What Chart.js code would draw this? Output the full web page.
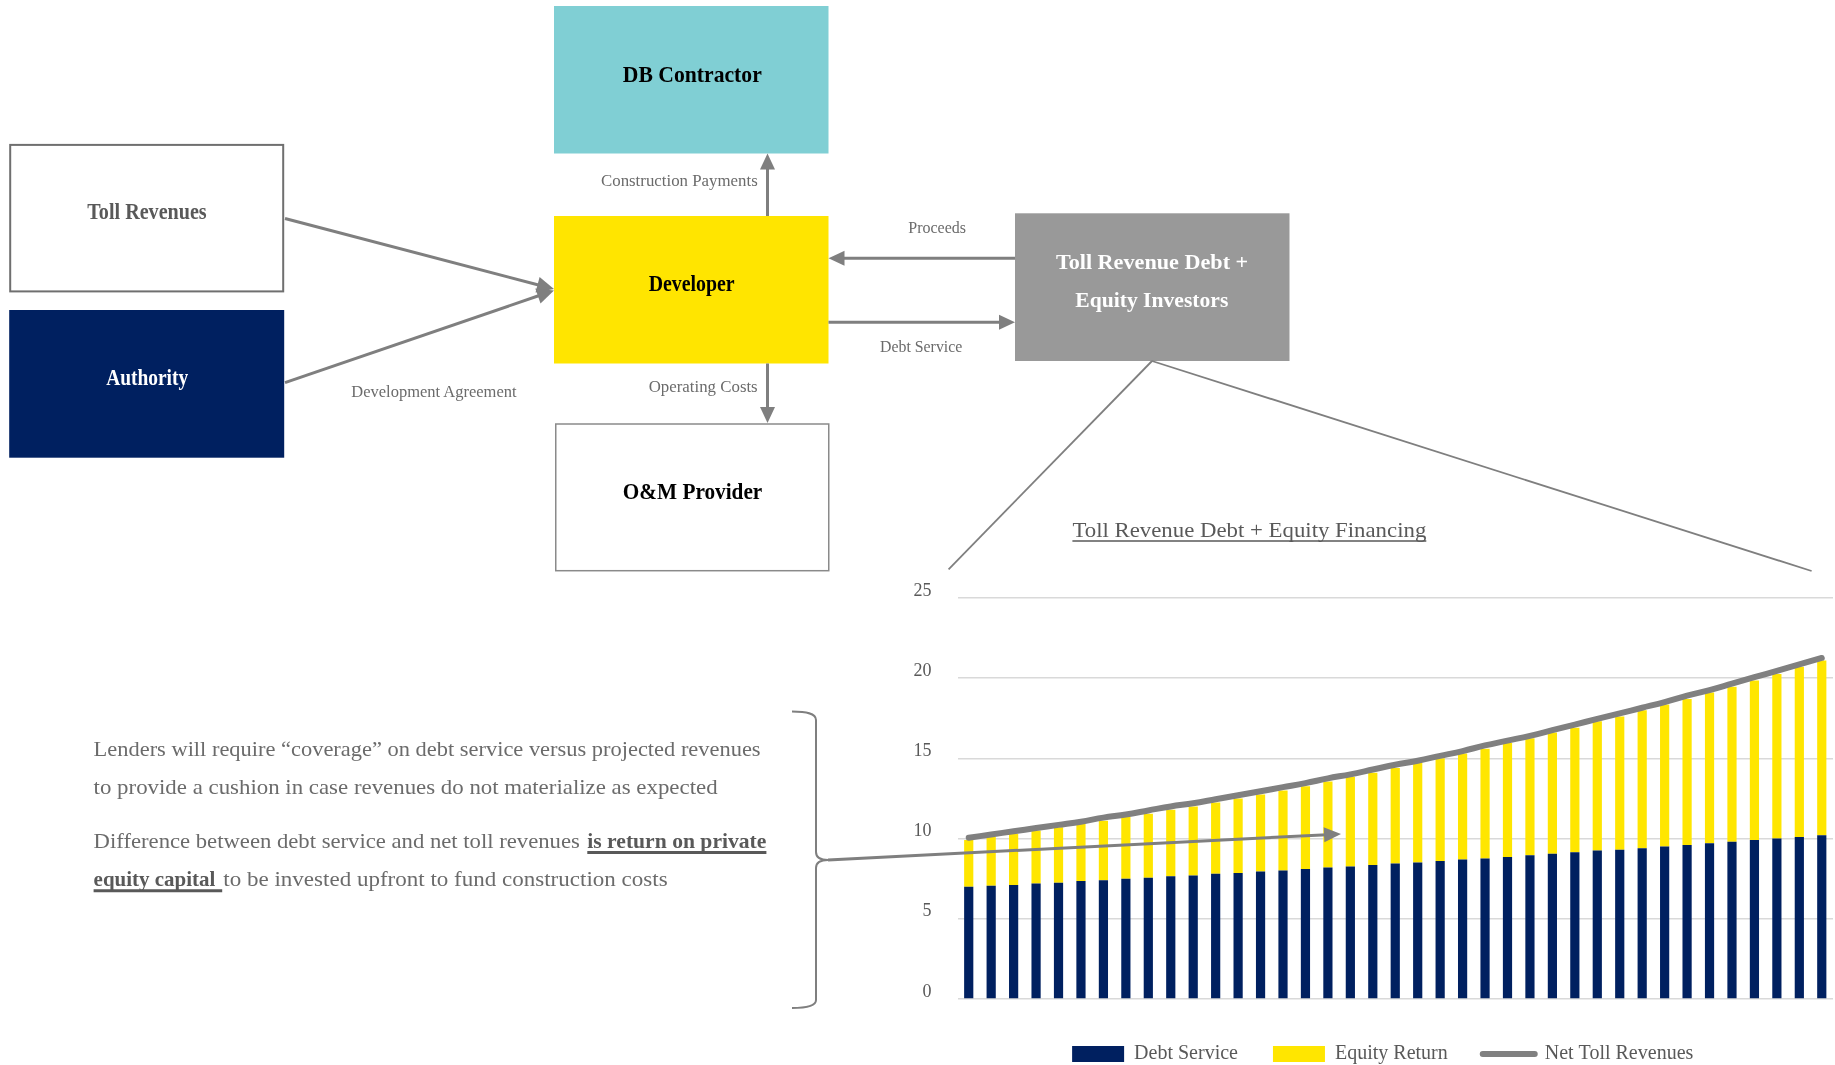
<!DOCTYPE html>
<html><head><meta charset="utf-8">
<script src="https://cdn.jsdelivr.net/npm/chart.js@4.4.1/dist/chart.umd.min.js"></script>
<style>
html,body{margin:0;padding:0;background:#fff;}
body{width:1835px;height:1065px;overflow:hidden;position:relative;font-family:'Liberation Serif',serif;}
#chartWrap{position:absolute;left:905px;top:561.3px;width:950px;height:513px;}
#overlay{position:absolute;left:0;top:0;width:1835px;height:1065px;pointer-events:none;}
</style></head><body>
<div id="chartWrap"><canvas id="c" width="950" height="513"></canvas></div>
<svg id="overlay" xmlns="http://www.w3.org/2000/svg" width="1835" height="1065" viewBox="0 0 1835 1065"></svg>
<script>
// ---- chart data ----
const years = [1,2,3,4,5,6,7,8,9,10,11,12,13,14,15,16,17,18,19,20,21,22,23,24,25,26,27,28,29,30,31,32,33,34,35,36,37,38,39];
const debtService = [7.0,7.05,7.1,7.2,7.25,7.35,7.4,7.5,7.55,7.65,7.7,7.8,7.85,7.95,8.0,8.1,8.2,8.25,8.35,8.45,8.5,8.6,8.7,8.75,8.85,8.95,9.05,9.15,9.25,9.3,9.4,9.5,9.6,9.7,9.8,9.9,10.0,10.1,10.2];
const equityReturn = [2.9,3.05,3.2,3.3,3.45,3.55,3.7,3.85,4.0,4.15,4.3,4.45,4.65,4.8,5.0,5.15,5.35,5.6,5.75,5.95,6.2,6.4,6.6,6.85,7.1,7.3,7.55,7.75,8.05,8.3,8.6,8.85,9.1,9.4,9.65,9.95,10.25,10.6,10.9];
const netTollRevenues = [10.05,10.25,10.45,10.65,10.85,11.05,11.3,11.5,11.75,12.0,12.2,12.45,12.7,12.95,13.2,13.45,13.75,14.0,14.3,14.6,14.85,15.15,15.45,15.8,16.1,16.4,16.75,17.1,17.45,17.8,18.15,18.5,18.9,19.25,19.65,20.05,20.45,20.85,21.25];
const yTickValues = [0,5,10,15,20,25];
const seriesNames = ['Debt Service','Equity Return','Net Toll Revenues'];

const NAVY='#002060', YELLOW='#FFE600', GREY='#808080';
const LEGEND_SHIFT = 13.7;

Chart.defaults.font.family = "'Liberation Serif', serif";
Chart.defaults.color = '#595959';

const legendShift = {
  id:'legendShift',
  afterLayout(chart){ const lg = chart.legend; if(lg){ lg.left += LEGEND_SHIFT; lg.right += LEGEND_SHIFT; } }
};

new Chart(document.getElementById('c'), {
  type: 'bar',
  data: {
    labels: years,
    datasets: [
      {type:'bar', label:seriesNames[0], data:debtService, backgroundColor:NAVY, borderWidth:0, stack:'s', barPercentage:0.41, categoryPercentage:1},
      {type:'bar', label:seriesNames[1], data:equityReturn, backgroundColor:YELLOW, borderWidth:0, stack:'s', barPercentage:0.41, categoryPercentage:1},
      {type:'line', label:seriesNames[2], data:netTollRevenues, borderColor:GREY, backgroundColor:GREY, borderWidth:6,
       pointRadius:0, tension:0.4, borderCapStyle:'round', fill:false, order:-1, stack:'line'}
    ]
  },
  plugins:[legendShift],
  options: {
    responsive:false, animation:false, devicePixelRatio:1,
    layout:{padding:{left:0, right:22, top:0, bottom:0}},
    plugins:{
      tooltip:{enabled:false},
      legend:{
        position:'bottom',
        labels:{
          usePointStyle:true, pointStyleWidth:52, boxHeight:16, padding:35,
          font:{size:20}, color:'#595959',
          sort:(a,b)=>a.datasetIndex-b.datasetIndex,
          generateLabels(chart){
            const items = Chart.defaults.plugins.legend.labels.generateLabels(chart);
            items.forEach(it=>{
              if(it.datasetIndex===2){ it.pointStyle='line'; it.lineWidth=6; it.strokeStyle=GREY; it.lineCap='round'; }
              else { it.pointStyle='rect'; it.lineWidth=0; }
            });
            return items;
          }
        }
      }
    },
    scales:{
      x:{stacked:true, grid:{display:false}, border:{display:false}, ticks:{display:false}, afterFit(s){ s.height=10; }},
      y:{stacked:true, min:0, max:25,
         afterBuildTicks(s){ s.ticks = yTickValues.map(v=>({value:v})); },
         ticks:{padding:26, labelOffset:-7, font:{size:18}, color:'#595959'},
         grid:{color:'#D9D9D9', lineWidth:1.5, drawTicks:false},
         border:{display:false},
         afterFit(s){ s.width=52.5; }}
    }
  }
});

// ---- diagram overlay ----
const NS='http://www.w3.org/2000/svg';
const svg=document.getElementById('overlay');
function el(tag, attrs, text){ const e=document.createElementNS(NS,tag); for(const k in attrs) e.setAttribute(k, attrs[k]); if(text!==undefined) e.textContent=text; svg.appendChild(e); return e; }
function txt(s,x,y,len,size,fill,weight){ return el('text',{x:x,y:y,'font-size':size,'font-family':"'Liberation Serif', serif",'font-weight':weight||400,fill:fill,textLength:len,lengthAdjust:'spacingAndGlyphs'}, s); }
function arrow(x1,y1,x2,y2,w,color,hl,hw){
  const dx=x2-x1, dy=y2-y1, L=Math.hypot(dx,dy), ux=dx/L, uy=dy/L;
  const bx=x2-ux*hl, by=y2-uy*hl;
  el('line',{x1:x1,y1:y1,x2:bx+ux*3,y2:by+uy*3,stroke:color,'stroke-width':w});
  el('polygon',{points:`${x2},${y2} ${bx-uy*hw/2},${by+ux*hw/2} ${bx+uy*hw/2},${by-ux*hw/2}`, fill:color});
}
const AC='#7f7f7f';

// boxes
el('rect',{x:10.2,y:144.9,width:273,height:146.5,fill:'#fff',stroke:'#6f6f6f','stroke-width':2});
el('rect',{x:9.2,y:310,width:275,height:147.7,fill:NAVY});
el('rect',{x:554,y:6,width:274.5,height:147.5,fill:'#80CFD4'});
el('rect',{x:554,y:216,width:274.5,height:147.5,fill:'#FFE500'});
el('rect',{x:555.75,y:424,width:273,height:146.7,fill:'#fff',stroke:'#8a8a8a','stroke-width':1.5});
el('rect',{x:1015,y:213.3,width:274.5,height:147.7,fill:'#999999'});

// box labels
txt('DB Contractor',622.8,82.3,139,24,'#000',700);
txt('Toll Revenues',87.3,219.3,119.4,23,'#595959',700);
txt('Developer',648.7,290.9,86,24,'#000',700);
txt('Authority',106.2,384.6,82,23,'#fff',700);
txt('O&M Provider',622.8,498.7,139.5,24,'#000',700);
txt('Toll Revenue Debt +',1055.9,269,192.3,22,'#fff',700);
txt('Equity Investors',1075.3,307.3,153,22,'#fff',700);

// arrow labels
const LC='#6b6b6b';
txt('Construction Payments',601,185.6,156.7,17,LC);
txt('Operating Costs',648.7,392.3,109,17,LC);
txt('Development Agreement',351.3,396.5,165.3,17,LC);
txt('Proceeds',908.3,233.3,57.7,17,LC);
txt('Debt Service',880,351.7,82.3,17,LC);

// arrows
arrow(285,218.5,554,289,3,AC,17,16);
arrow(285,382.7,554,290.5,3,AC,17,16);
arrow(767.5,216,767.5,153.5,3,AC,16,15);
arrow(767.5,363.5,767.5,423,3,AC,16,15);
arrow(1015,258.3,828.5,258.3,3,AC,16,15);
arrow(828.5,322.3,1015,322.3,3,AC,16,15);

// zoom-out triangle lines
el('line',{x1:1152,y1:361,x2:948.6,y2:569.3,stroke:AC,'stroke-width':1.8});
el('line',{x1:1152,y1:361,x2:1811.6,y2:571,stroke:AC,'stroke-width':1.8});

// chart title
txt('Toll Revenue Debt + Equity Financing',1072.4,536.7,353.9,21,'#595959');
el('line',{x1:1072.4,y1:541,x2:1426.3,y2:541,stroke:'#595959','stroke-width':1.3});

// paragraph
const PC='#6b6b6b', BC='#595959';
txt('Lenders will require \u201Ccoverage\u201D on debt service versus projected revenues',93.6,756,667,21,PC);
txt('to provide a cushion in case revenues do not materialize as expected',93.6,793.5,624,21,PC);
txt('Difference between debt service and net toll revenues',93.6,848.3,486.2,21,PC);
txt('is return on private',587.3,848.3,179.1,21,BC,700);
el('line',{x1:587.3,y1:852.5,x2:766.4,y2:852.5,stroke:BC,'stroke-width':3});
txt('equity capital',93.6,886,121.7,21,BC,700);
el('line',{x1:93.6,y1:890.7,x2:222.2,y2:890.7,stroke:BC,'stroke-width':3});
txt('to be invested upfront to fund construction costs',223.3,886,444.3,21,PC);

// curly bracket
el('path',{d:'M 792 711.5 C 806 711.5, 816 713, 816 720 L 816 852 C 816 857, 820 860, 828 860 C 820 860, 816 863, 816 868 L 816 1000 C 816 1006, 806 1008, 792 1008',
  fill:'none',stroke:AC,'stroke-width':2});
arrow(828,860,1341,834,3,AC,17,15);
</script>
</body></html>
